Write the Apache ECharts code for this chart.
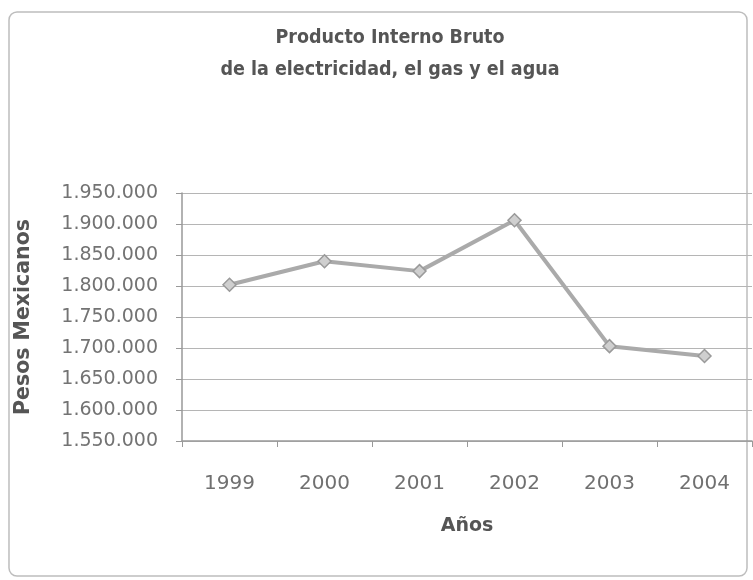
<!DOCTYPE html>
<html>
<head>
<meta charset="utf-8">
<script src="https://cdn.jsdelivr.net/npm/echarts@6/dist/echarts.min.js"></script>
<style>
html, body { margin: 0; padding: 0; background: #fff; }
#main { width: 753px; height: 580px; }
</style>
</head>
<body>
<div id="main"></div>
<script>
// datos
var years = ['1999', '2000', '2001', '2002', '2003', '2004']
var pib = [1802000, 1840000, 1824000, 1906000, 1703000, 1687000]
var yMin = 1550000
var yMax = 1950000
var yStep = 50000

function fmt(v) {
    return String(v).replace(/\B(?=(\d{3})+(?!\d))/g, '.')
}

var myChart = echarts.init(document.getElementById('main'))
var option = {
    backgroundColor: '#fff',
    animation: false,
    title: {
        text: 'Producto Interno Bruto\nde la electricidad, el gas y el agua',
        left: 385,
        textAlign: 'center',
        top: 17,
        textStyle: {
            fontFamily: "'DejaVu Sans Condensed', 'DejaVu Sans', sans-serif",
            fontWeight: 'bold',
            fontSize: 19.5,
            lineHeight: 32,
            color: '#555'
        }
    },
    graphic: [{
        type: 'rect',
        shape: { x: 9, y: 12, width: 738, height: 564, r: 8 },
        style: { fill: 'none', stroke: '#bdbdbd', lineWidth: 1.5 },
        silent: true
    }],
    grid: {
        left: 182,
        right: 1,
        top: 193,
        bottom: 139
    },
    xAxis: {
        type: 'category',
        data: years,
        boundaryGap: true,
        name: 'Años',
        nameLocation: 'middle',
        nameGap: 76,
        nameTextStyle: {
            fontFamily: 'DejaVu Sans',
            fontWeight: 'bold',
            fontSize: 19,
            color: '#555'
        },
        axisLine: { lineStyle: { color: '#999', width: 1.5 } },
        axisTick: { show: true, length: 6, lineStyle: { color: '#999' } },
        axisLabel: {
            margin: 33,
            fontFamily: 'DejaVu Sans',
            fontSize: 20,
            color: '#707070'
        },
        splitLine: { show: false }
    },
    yAxis: {
        type: 'value',
        min: yMin,
        max: yMax,
        interval: yStep,
        name: 'Pesos Mexicanos',
        nameLocation: 'middle',
        nameRotate: 90,
        nameGap: 148,
        nameTextStyle: {
            fontFamily: 'DejaVu Sans',
            fontWeight: 'bold',
            fontSize: 20.5,
            color: '#555'
        },
        axisLine: { show: true, lineStyle: { color: '#999', width: 1.5 } },
        axisTick: { show: true, length: 6, lineStyle: { color: '#999' } },
        axisLabel: {
            margin: 24,
            fontFamily: 'DejaVu Sans',
            fontSize: 19,
            color: '#737373',
            formatter: fmt
        },
        splitLine: { show: true, lineStyle: { color: '#b5b5b5', width: 1 } }
    },
    series: [
        {
            name: 'PIB',
            type: 'line',
            data: pib,
            symbol: 'diamond',
            symbolSize: 13,
            lineStyle: { color: '#aaaaaa', width: 4 },
            itemStyle: { color: '#cfcfcf', borderColor: '#9a9a9a', borderWidth: 1.5 }
        }
    ]
}
myChart.setOption(option)
</script>
</body>
</html>
